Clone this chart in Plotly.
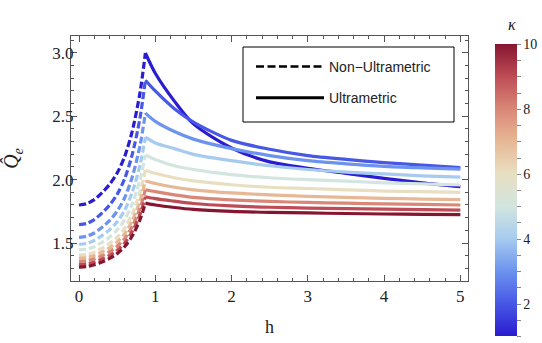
import plotly.graph_objects as go
from plotly.colors import sample_colorscale

# ---------------- data ----------------
kappa = [1, 2, 3, 4, 5, 6, 7, 8, 9, 10]

h_dashed = [0, 0.1, 0.2, 0.3, 0.4, 0.5, 0.6, 0.7, 0.8, 0.87]
q_dashed = [
    [1.80, 1.81, 1.842, 1.896, 1.962, 2.052, 2.184, 2.388, 2.688, 3.00],
    [1.645, 1.654, 1.685, 1.736, 1.799, 1.884, 2.010, 2.204, 2.489, 2.785],
    [1.545, 1.553, 1.579, 1.623, 1.677, 1.751, 1.859, 2.025, 2.270, 2.525],
    [1.49, 1.497, 1.520, 1.558, 1.604, 1.667, 1.760, 1.904, 2.115, 2.335],
    [1.445, 1.451, 1.471, 1.505, 1.546, 1.603, 1.685, 1.813, 2.000, 2.195],
    [1.405, 1.410, 1.428, 1.459, 1.495, 1.546, 1.619, 1.733, 1.901, 2.075],
    [1.38, 1.385, 1.401, 1.429, 1.462, 1.508, 1.575, 1.679, 1.831, 1.99],
    [1.355, 1.360, 1.375, 1.400, 1.431, 1.474, 1.536, 1.632, 1.773, 1.92],
    [1.33, 1.334, 1.349, 1.373, 1.402, 1.442, 1.501, 1.592, 1.726, 1.865],
    [1.31, 1.314, 1.328, 1.350, 1.378, 1.416, 1.472, 1.557, 1.684, 1.815],
]

h_solid = [0.87, 1.0, 1.25, 1.5, 2.0, 2.5, 3.0, 3.5, 4.0, 4.5, 5.0]
q_solid = [
    [3.00, 2.84, 2.62, 2.44, 2.25, 2.14, 2.09, 2.05, 2.01, 1.975, 1.945],
    [2.785, 2.70, 2.56, 2.455, 2.31, 2.24, 2.19, 2.16, 2.135, 2.115, 2.095],
    [2.525, 2.46, 2.38, 2.32, 2.245, 2.19, 2.15, 2.125, 2.105, 2.093, 2.083],
    [2.335, 2.29, 2.245, 2.20, 2.15, 2.11, 2.08, 2.06, 2.045, 2.03, 2.02],
    [2.195, 2.16, 2.11, 2.08, 2.04, 2.015, 2.0, 1.988, 1.975, 1.966, 1.958],
    [2.075, 2.05, 2.015, 1.99, 1.96, 1.94, 1.93, 1.92, 1.91, 1.905, 1.90],
    [1.99, 1.97, 1.94, 1.92, 1.895, 1.88, 1.868, 1.86, 1.853, 1.847, 1.843],
    [1.92, 1.905, 1.88, 1.86, 1.84, 1.828, 1.82, 1.814, 1.809, 1.805, 1.80],
    [1.865, 1.85, 1.83, 1.812, 1.793, 1.782, 1.776, 1.771, 1.767, 1.763, 1.76],
    [1.815, 1.80, 1.78, 1.765, 1.75, 1.742, 1.737, 1.733, 1.729, 1.726, 1.724],
]

x_ticks = [0, 1, 2, 3, 4, 5]
y_ticks = [1.5, 2.0, 2.5, 3.0]
cbar_ticks = [2, 4, 6, 8, 10]

# ---------------- style ----------------
colorscale = [
    [0.000, "#2a1ccf"], [0.111, "#4757e6"], [0.222, "#6c93ee"],
    [0.333, "#a7cbef"], [0.444, "#d2e5df"], [0.556, "#e8dfc2"],
    [0.667, "#e7b895"], [0.778, "#d98777"], [0.889, "#be4c56"],
    [1.000, "#861530"],
]
kmin, kmax = 1, 10
serif = "Liberation Serif, Times New Roman, serif"
sans = "Liberation Sans, Arial, sans-serif"
frame = "#555555"

W, H = 542, 343
ML, MR, MT, MB = 71, 74, 36, 62
pw, ph = W - ML - MR, H - MT - MB


def px_x(px):
    return (px - ML) / pw


def px_y(py):
    return (H - MB - py) / ph


fig = go.Figure()
line_colors = sample_colorscale(colorscale, [(k - kmin) / (kmax - kmin) for k in kappa])

for k, col, qd, qs in zip(kappa, line_colors, q_dashed, q_solid):
    fig.add_trace(go.Scatter(x=h_dashed, y=qd, mode="lines",
                             line=dict(color=col, width=3.2, dash="7px,3px", shape="spline", smoothing=0.8),
                             showlegend=False, hoverinfo="skip"))
    fig.add_trace(go.Scatter(x=h_solid, y=qs, mode="lines",
                             line=dict(color=col, width=3.2, shape="spline", smoothing=0.8),
                             showlegend=False, hoverinfo="skip"))

# legend entries
fig.add_trace(go.Scatter(x=[None], y=[None], mode="lines", name="Non\u2212Ultrametric",
                         line=dict(color="black", width=2.5, dash="8px,3.5px"), legendgroup="a"))
fig.add_trace(go.Scatter(x=[None], y=[None], mode="lines", name="Ultrametric",
                         line=dict(color="black", width=3), legendgroup="b"))

# colorbar
cb_vals = [v / 2 for v in range(2, 21)]
fig.add_trace(go.Scatter(
    x=[None, None], y=[None, None], mode="markers", showlegend=False, hoverinfo="skip",
    marker=dict(color=[kmin, kmax], cmin=kmin, cmax=kmax, colorscale=colorscale, showscale=True,
                colorbar=dict(x=px_x(495), xanchor="left", xpad=0, y=px_y(34.5), yanchor="top",
                              len=312, lenmode="pixels", thickness=22, outlinewidth=0,
                              ticks="outside", ticklen=4, tickcolor="#888888",
                              tickvals=cb_vals,
                              ticktext=[str(int(v)) if v in cbar_ticks else "" for v in cb_vals],
                              tickfont=dict(family=serif, size=14, color="#222222")))))

axis_common = dict(showline=True, linecolor=frame, linewidth=1, mirror="allticks",
                   ticks="inside", ticklen=6, tickcolor=frame, showgrid=False, zeroline=False,
                   tickfont=dict(family=serif, size=17, color="#222222"))

fig.update_xaxes(range=[-0.105, 5.1], tickvals=x_ticks,
                 minor=dict(dtick=0.2, ticks="inside", ticklen=3, tickcolor=frame, showgrid=False),
                 title=dict(text="h", font=dict(family=serif, size=18, color="#222222"), standoff=14),
                 **axis_common)
fig.update_yaxes(range=[1.2, 3.134], tickvals=y_ticks, tickformat=".1f", ticklabelstandoff=-7,
                 minor=dict(dtick=0.1, ticks="inside", ticklen=3, tickcolor=frame, showgrid=False),
                 title=dict(text="<i>Q\u0302</i><sub><i>e</i></sub>",
                            font=dict(family=serif, size=20, color="#222222"), standoff=32),
                 **axis_common)

fig.add_annotation(text="<i>\u03ba</i>", x=px_x(518), y=px_y(14), xref="paper", yref="paper",
                   showarrow=False, font=dict(family=serif, size=16, color="#222222"))

# legend frame
fig.add_shape(type="rect", xref="paper", yref="paper",
              x0=px_x(243), x1=px_x(454), y0=px_y(122), y1=px_y(47),
              line=dict(color="black", width=1), fillcolor="white", layer="below")

fig.update_layout(
    width=W, height=H,
    margin=dict(l=ML, r=MR, t=MT, b=MB, autoexpand=False),
    plot_bgcolor="rgba(0,0,0,0)", paper_bgcolor="white",
    legend=dict(x=px_x(251), y=px_y(51), xanchor="left", yanchor="top",
                borderwidth=0, bgcolor="rgba(0,0,0,0)",
                font=dict(family=sans, size=14, color="#222222"),
                itemwidth=68, tracegroupgap=10, traceorder="grouped"),
)

fig.write_html("out.html")
